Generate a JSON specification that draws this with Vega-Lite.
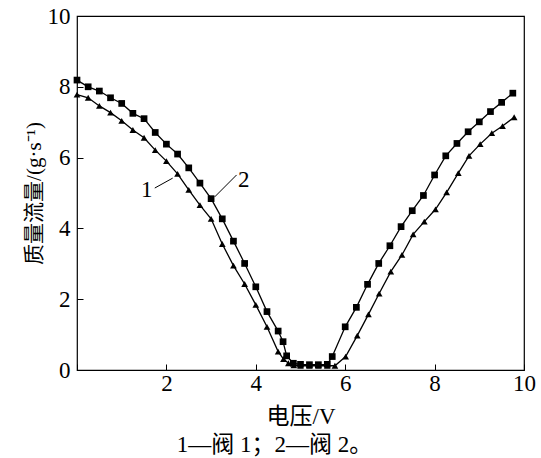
{
  "$schema": "https://vega.github.io/schema/vega-lite/v6.json",
  "width": 447,
  "height": 354,
  "autosize": {"type": "none"},
  "padding": {"left": 77, "top": 16, "right": 17, "bottom": 88},
  "config": {
    "view": {"stroke": "black", "strokeWidth": 1.2},
    "font": "Liberation Serif",
    "axis": {
      "domain": false,
      "grid": false,
      "tickColor": "black",
      "tickSize": -6,
      "labelColor": "black",
      "labelFont": "Liberation Serif",
      "labelFontSize": 23,
      "titleColor": "black",
      "titleFont": "Liberation Serif, Noto Sans CJK SC",
      "titleFontSize": 23,
      "titleFontWeight": "normal"
    }
  },
  "title": {
    "text": "1—阀 1；2—阀 2。",
    "orient": "bottom",
    "anchor": "middle",
    "offset": 6,
    "font": "Liberation Serif, Noto Sans CJK SC",
    "fontSize": 23,
    "fontWeight": "normal",
    "color": "black",
    "dx": -26
  },
  "datasets": {
    "curves": [
      {"s": "2", "x": 0, "y": 8.19}, {"s": "2", "x": 0.25, "y": 8.0}, {"s": "2", "x": 0.5, "y": 7.88},
      {"s": "2", "x": 0.75, "y": 7.69}, {"s": "2", "x": 1.0, "y": 7.53}, {"s": "2", "x": 1.25, "y": 7.25},
      {"s": "2", "x": 1.5, "y": 7.1}, {"s": "2", "x": 1.75, "y": 6.71}, {"s": "2", "x": 2.0, "y": 6.38},
      {"s": "2", "x": 2.25, "y": 6.1}, {"s": "2", "x": 2.5, "y": 5.71}, {"s": "2", "x": 2.75, "y": 5.28},
      {"s": "2", "x": 3.0, "y": 4.84}, {"s": "2", "x": 3.25, "y": 4.27}, {"s": "2", "x": 3.5, "y": 3.64},
      {"s": "2", "x": 3.75, "y": 3.01}, {"s": "2", "x": 4.0, "y": 2.35}, {"s": "2", "x": 4.25, "y": 1.65},
      {"s": "2", "x": 4.5, "y": 1.1}, {"s": "2", "x": 4.61, "y": 0.8}, {"s": "2", "x": 4.69, "y": 0.4},
      {"s": "2", "x": 4.84, "y": 0.19}, {"s": "2", "x": 5.0, "y": 0.16}, {"s": "2", "x": 5.2, "y": 0.15},
      {"s": "2", "x": 5.4, "y": 0.15}, {"s": "2", "x": 5.6, "y": 0.16}, {"s": "2", "x": 5.71, "y": 0.38},
      {"s": "2", "x": 6.0, "y": 1.22}, {"s": "2", "x": 6.25, "y": 1.77}, {"s": "2", "x": 6.5, "y": 2.42},
      {"s": "2", "x": 6.75, "y": 3.01}, {"s": "2", "x": 7.0, "y": 3.51}, {"s": "2", "x": 7.25, "y": 4.05},
      {"s": "2", "x": 7.5, "y": 4.5}, {"s": "2", "x": 7.75, "y": 4.93}, {"s": "2", "x": 8.0, "y": 5.51},
      {"s": "2", "x": 8.25, "y": 6.05}, {"s": "2", "x": 8.5, "y": 6.4}, {"s": "2", "x": 8.75, "y": 6.73},
      {"s": "2", "x": 9.0, "y": 7.01}, {"s": "2", "x": 9.25, "y": 7.3}, {"s": "2", "x": 9.5, "y": 7.56},
      {"s": "2", "x": 9.75, "y": 7.82},
      {"s": "1", "x": 0, "y": 7.78}, {"s": "1", "x": 0.25, "y": 7.69}, {"s": "1", "x": 0.5, "y": 7.46},
      {"s": "1", "x": 0.75, "y": 7.27}, {"s": "1", "x": 1.0, "y": 7.04}, {"s": "1", "x": 1.25, "y": 6.78},
      {"s": "1", "x": 1.5, "y": 6.56}, {"s": "1", "x": 1.75, "y": 6.21}, {"s": "1", "x": 2.0, "y": 5.9},
      {"s": "1", "x": 2.25, "y": 5.54}, {"s": "1", "x": 2.5, "y": 5.09}, {"s": "1", "x": 2.75, "y": 4.66},
      {"s": "1", "x": 3.0, "y": 4.27}, {"s": "1", "x": 3.25, "y": 3.56}, {"s": "1", "x": 3.5, "y": 2.95},
      {"s": "1", "x": 3.75, "y": 2.43}, {"s": "1", "x": 4.0, "y": 1.84}, {"s": "1", "x": 4.25, "y": 1.22},
      {"s": "1", "x": 4.5, "y": 0.52}, {"s": "1", "x": 4.62, "y": 0.31}, {"s": "1", "x": 4.73, "y": 0.19},
      {"s": "1", "x": 4.85, "y": 0.13}, {"s": "1", "x": 5.0, "y": 0.12}, {"s": "1", "x": 5.2, "y": 0.12},
      {"s": "1", "x": 5.4, "y": 0.12}, {"s": "1", "x": 5.6, "y": 0.12}, {"s": "1", "x": 5.77, "y": 0.12},
      {"s": "1", "x": 6.01, "y": 0.38}, {"s": "1", "x": 6.27, "y": 0.97}, {"s": "1", "x": 6.52, "y": 1.57},
      {"s": "1", "x": 6.76, "y": 2.16}, {"s": "1", "x": 7.02, "y": 2.78}, {"s": "1", "x": 7.27, "y": 3.25},
      {"s": "1", "x": 7.52, "y": 3.83}, {"s": "1", "x": 7.77, "y": 4.19}, {"s": "1", "x": 8.02, "y": 4.54},
      {"s": "1", "x": 8.27, "y": 5.02}, {"s": "1", "x": 8.53, "y": 5.56}, {"s": "1", "x": 8.77, "y": 6.05},
      {"s": "1", "x": 9.02, "y": 6.38}, {"s": "1", "x": 9.28, "y": 6.69}, {"s": "1", "x": 9.52, "y": 6.89},
      {"s": "1", "x": 9.78, "y": 7.14}
    ],
    "leaders": [
      {"x": 1.74, "y": 5.14, "x2": 2.14, "y2": 5.42},
      {"x": 3.57, "y": 5.51, "x2": 3.08, "y2": 4.89}
    ],
    "labels": [
      {"x": 1.56, "y": 5.08, "t": "1"},
      {"x": 3.73, "y": 5.37, "t": "2"}
    ]
  },
  "layer": [
    {
      "data": {"name": "curves"},
      "mark": {"type": "line", "color": "black", "strokeWidth": 1.3},
      "encoding": {
        "x": {
          "field": "x", "type": "quantitative",
          "scale": {"domain": [0, 10], "nice": false, "zero": false},
          "axis": {"values": [0, 2, 4, 6, 8, 10], "title": "电压/V", "titlePadding": 10, "labelPadding": 8, "labelFontSize": 23, "labelExpr": "datum.value == 0 ? '' : datum.label", "labelFlush": false}
        },
        "y": {
          "field": "y", "type": "quantitative",
          "scale": {"domain": [0, 10], "nice": false},
          "axis": {"values": [0, 2, 4, 6, 8, 10], "title": "质量流量/(g·s⁻¹)", "titleFontSize": 21, "titlePadding": 3, "labelPadding": 13, "labelFontSize": 23, "labelFlush": false}
        },
        "detail": {"field": "s"}
      }
    },
    {
      "data": {"name": "curves"},
      "mark": {"type": "point", "filled": true, "color": "black", "opacity": 1, "size": 45},
      "encoding": {
        "x": {"field": "x", "type": "quantitative"},
        "y": {"field": "y", "type": "quantitative"},
        "shape": {
          "field": "s", "type": "nominal",
          "scale": {"domain": ["1", "2"], "range": ["triangle-up", "square"]},
          "legend": null
        }
      }
    },
    {
      "data": {"name": "leaders"},
      "mark": {"type": "rule", "color": "black", "strokeWidth": 1},
      "encoding": {
        "x": {"field": "x", "type": "quantitative"},
        "y": {"field": "y", "type": "quantitative"},
        "x2": {"field": "x2"},
        "y2": {"field": "y2"}
      }
    },
    {
      "data": {"name": "labels"},
      "mark": {"type": "text", "font": "Liberation Serif", "fontSize": 23, "color": "black", "align": "center", "baseline": "middle"},
      "encoding": {
        "x": {"field": "x", "type": "quantitative"},
        "y": {"field": "y", "type": "quantitative"},
        "text": {"field": "t"}
      }
    }
  ]
}
